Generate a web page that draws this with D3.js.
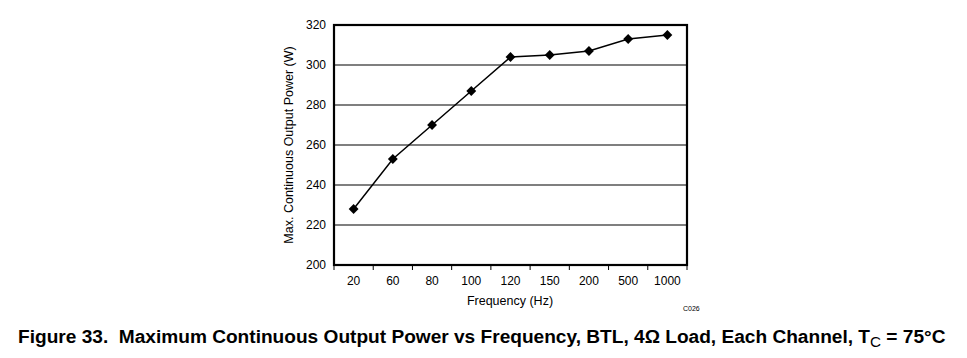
<!DOCTYPE html>
<html><head><meta charset="utf-8">
<script src="https://cdn.jsdelivr.net/npm/d3@7"></script>
<style>body{margin:0;background:#fff;} svg{display:block;} text{font-family:"Liberation Sans",Arial,sans-serif;}</style>
</head><body>
<svg id="c" width="967" height="358"></svg>
<script>
const categories = ["20","60","80","100","120","150","200","500","1000"];
const power = [228, 253, 270, 287, 304, 305, 307, 313, 315];
const yTicks = [200, 220, 240, 260, 280, 300, 320];

const svg = d3.select("#c");
const m = {l:334, r:687, t:25, b:265};
const x = d3.scaleBand().domain(categories).range([m.l, m.r]);
const y = d3.scaleLinear().domain([200, 320]).range([m.b, m.t]);

// gridlines
svg.append("g").selectAll("line").data(yTicks.slice(1,-1)).join("line")
  .attr("x1", m.l).attr("x2", m.r).attr("y1", d=>y(d)).attr("y2", d=>y(d))
  .attr("stroke","#000").attr("stroke-width",1.2);

// y axis labels
const ya = svg.append("g").attr("transform",`translate(${m.l},0)`)
  .call(d3.axisLeft(y).tickValues(yTicks).tickSize(0).tickPadding(8));
ya.select(".domain").remove();
ya.selectAll("text").attr("font-size",12).attr("fill","#000").attr("font-family","Liberation Sans, Arial, sans-serif");

// x axis
const xa = svg.append("g").attr("transform",`translate(0,${m.b})`)
  .call(d3.axisBottom(x).tickSize(0).tickPadding(11));
xa.select(".domain").remove();
xa.selectAll("text").attr("font-size",12).attr("fill","#000").attr("font-family","Liberation Sans, Arial, sans-serif");
// tick marks at band boundaries
const bounds = categories.map(c=>x(c)).concat([m.r]);
svg.append("g").selectAll("line").data(bounds).join("line")
  .attr("x1",d=>d).attr("x2",d=>d).attr("y1",m.b).attr("y2",m.b+5)
  .attr("stroke","#000").attr("stroke-width",1);

// frame
svg.append("rect").attr("x",m.l).attr("y",m.t).attr("width",m.r-m.l).attr("height",m.b-m.t)
  .attr("fill","none").attr("stroke","#000").attr("stroke-width",2.2);

// line
const pts = categories.map((c,i)=>[x(c)+x.bandwidth()/2, y(power[i])]);
svg.append("path").attr("d", d3.line()(pts)).attr("fill","none").attr("stroke","#000").attr("stroke-width",1.5);
svg.append("g").selectAll("path").data(pts).join("path")
  .attr("d", d3.symbol(d3.symbolDiamond2, 62)())
  .attr("transform", d=>`translate(${d[0]},${d[1]})`).attr("fill","#000");

// titles
svg.append("text").attr("x",510).attr("y",305).attr("text-anchor","middle").attr("font-size",12.5).text("Frequency (Hz)");
svg.append("text").attr("transform",`translate(293,145) rotate(-90)`).attr("text-anchor","middle").attr("font-size",12.5).text("Max. Continuous Output Power (W)");
svg.append("text").attr("x",683).attr("y",311).attr("font-size",7).text("C026");

// caption
const cap = svg.append("text").attr("x",18).attr("y",343).attr("font-size",18.5).attr("font-weight","bold");
cap.append("tspan").text("Figure 33.\u00a0 Maximum Continuous Output Power vs Frequency, BTL, 4\u03a9 Load, Each Channel, T");
cap.append("tspan").attr("font-size","0.8em").attr("font-weight","normal").attr("dy",4).text("C");
cap.append("tspan").attr("dy",-4).text(" = 75\u00b0C");
// fit caption width to reference span
const w = cap.node().getComputedTextLength();
const target = 928;
cap.attr("font-size", 18.5 * target / w);
</script>
</body></html>
